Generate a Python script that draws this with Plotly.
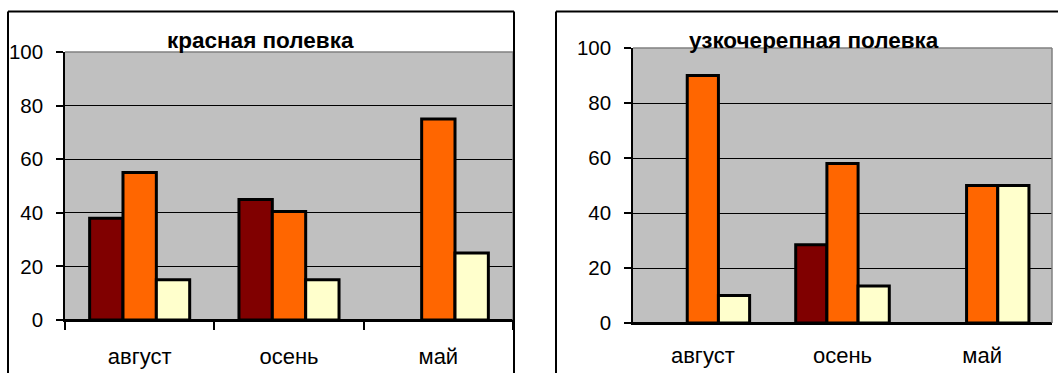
import plotly.graph_objects as go

W, H = 1058, 373

categories = ["август", "осень", "май"]
y_ticks = [0, 20, 40, 60, 80, 100]

# красная полевка
red_dark = [38, 45, None]
red_orange = [55, 40.5, 75]
red_yellow = [15, 15, 25]

# узкочерепная полевка
narrow_dark = [None, 28.5, None]
narrow_orange = [90, 58, 50]
narrow_yellow = [10, 13.5, 50]

colors = ["#800000", "#FF6600", "#FFFFCC"]
titles = ["красная полевка", "узкочерепная полевка"]

FONT = "Liberation Sans, Arial, sans-serif"

fig = go.Figure()

def add_series(vals_list, xa, ya):
    for vals, c in zip(vals_list, colors):
        fig.add_trace(go.Bar(
            x=categories, y=vals, xaxis=xa, yaxis=ya,
            marker=dict(color=c, line=dict(color="black", width=3)),
            showlegend=False, hoverinfo="x+y"))

add_series([red_dark, red_orange, red_yellow], "x", "y")
add_series([narrow_dark, narrow_orange, narrow_yellow], "x2", "y2")

def px_x(p):
    return p / W

def px_y(p):
    return 1 - p / H

yaxis_common = dict(
    range=[0, 100], tickvals=y_ticks, showgrid=True, gridcolor="black", gridwidth=1,
    zeroline=True, zerolinecolor="black", zerolinewidth=1.5,
    showline=True, linecolor="black", linewidth=1.5,
    ticks="outside", ticklen=7, tickcolor="black", tickwidth=1.5,
    ticklabelstandoff=9, automargin=False,
    tickfont=dict(family=FONT, size=20.5, color="black"), fixedrange=True)

fig.update_layout(
    template="none",
    width=W, height=H, margin=dict(l=0, r=0, t=0, b=0, pad=0), autosize=False,
    paper_bgcolor="white", plot_bgcolor="#C0C0C0",
    barmode="group", bargap=0.33, bargroupgap=0,
    xaxis=dict(domain=[px_x(65), px_x(513)], anchor="y", type="category", automargin=False,
               showline=True, linecolor="black", linewidth=1.5,
               ticks="outside", tickson="boundaries", ticklen=8, tickcolor="black", tickwidth=1.5,
               ticklabelstandoff=16,
               tickfont=dict(family=FONT, size=22, color="black"), showgrid=False, fixedrange=True),
    yaxis=dict(domain=[px_y(320), px_y(52)], anchor="x", **yaxis_common),
    xaxis2=dict(domain=[px_x(633), px_x(1052)], anchor="y2", type="category", automargin=False,
                showline=True, linecolor="black", linewidth=1.5,
                ticks="", ticklabelstandoff=12,
                tickfont=dict(family=FONT, size=22, color="black"), showgrid=False, fixedrange=True),
    yaxis2=dict(domain=[px_y(323), px_y(48)], anchor="x2", **yaxis_common),
)

shapes = []
# gray plot-area border (top and right)
for xr, yr in (("x domain", "y domain"), ("x2 domain", "y2 domain")):
    shapes.append(dict(type="line", xref=xr, yref=yr, x0=0, x1=1, y0=1, y1=1,
                       line=dict(color="#808080", width=1.5), layer="above"))
    shapes.append(dict(type="line", xref=xr, yref=yr, x0=1, x1=1, y0=0, y1=1,
                       line=dict(color="#808080", width=1.5), layer="above"))
# chart frames (drawn as lines, bottom edge lies outside the picture)
frame = dict(color="black", width=2)
top = px_y(11.5)
for x0, x1 in ((px_x(8), px_x(514)), (px_x(556), 1)):
    shapes.append(dict(type="line", xref="paper", yref="paper", x0=x0, x1=x1, y0=top, y1=top,
                       line=frame, layer="above"))
for xv in (px_x(8), px_x(514), px_x(556)):
    shapes.append(dict(type="line", xref="paper", yref="paper", x0=xv, x1=xv, y0=0, y1=top,
                       line=frame, layer="above"))
fig.update_layout(shapes=shapes)

fig.add_annotation(text="<b>" + titles[0] + "</b>", xref="paper", yref="paper",
                   x=px_x(260.5), y=px_y(41), xanchor="center", yanchor="middle",
                   showarrow=False, font=dict(family=FONT, size=22.5, color="black"))
fig.add_annotation(text="<b>" + titles[1] + "</b>", xref="paper", yref="paper",
                   x=px_x(813.5), y=px_y(41), xanchor="center", yanchor="middle",
                   showarrow=False, font=dict(family=FONT, size=22.5, color="black"))

fig.write_html("out.html")
